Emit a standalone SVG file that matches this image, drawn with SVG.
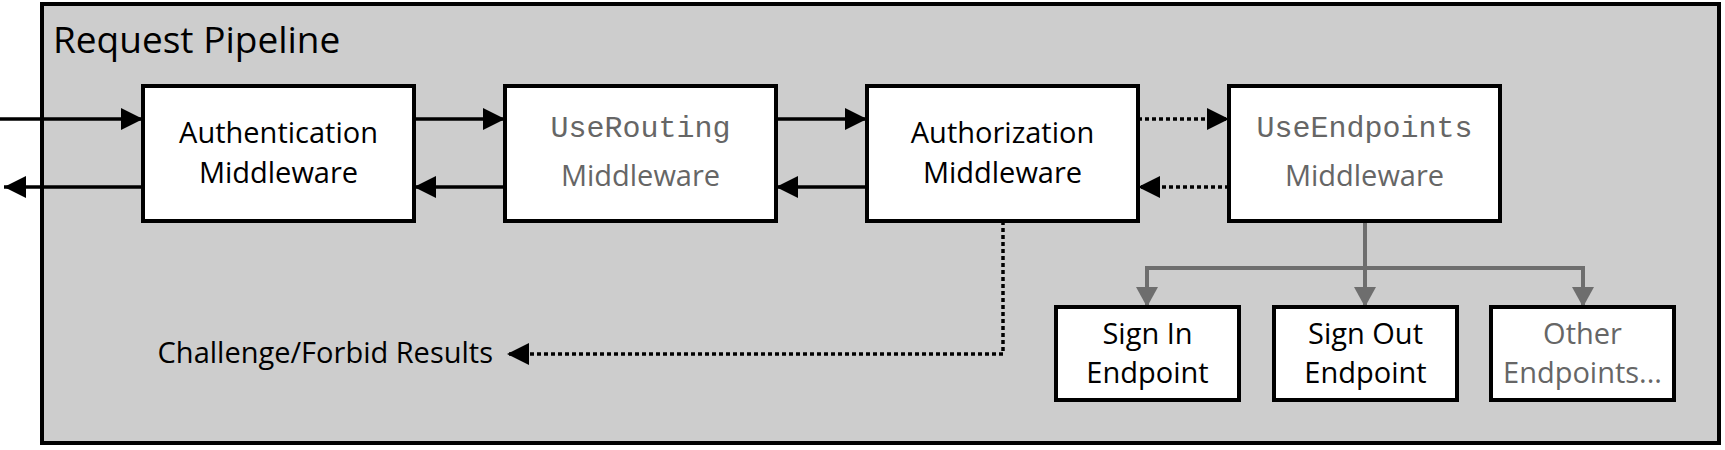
<svg xmlns="http://www.w3.org/2000/svg" width="1725" height="450" viewBox="0 0 1725 450">
<style>
.box{fill:#ffffff;stroke:#000000;stroke-width:4}
.lbl{font-family:"Open Sans","Liberation Sans",sans-serif;font-size:29px;fill:#000000;text-anchor:middle}
.gry{fill:#666666}
.mono{font-family:"Liberation Mono","DejaVu Sans Mono",monospace;font-size:30px;fill:#666666;text-anchor:middle}
.ln{fill:none;stroke:#000000;stroke-width:3.5}
.dot{fill:none;stroke:#000000;stroke-width:3.5;stroke-dasharray:4 3}
.gl{fill:none;stroke:#6e6e6e;stroke-width:4}
</style>
<defs>
<marker id="ah" viewBox="0 0 22 22" refX="22" refY="11" markerWidth="22" markerHeight="22" markerUnits="userSpaceOnUse" orient="auto">
<path d="M0,0 L22,11 L0,22 z" fill="#000000"/>
</marker>
<marker id="gh" viewBox="0 0 20 22" refX="20" refY="11" markerWidth="20" markerHeight="22" markerUnits="userSpaceOnUse" orient="auto">
<path d="M0,0 L20,11 L0,22 z" fill="#6e6e6e"/>
</marker>
</defs>
<g id="pipeline">
<rect x="42" y="4" width="1677" height="439" fill="#cdcdcd" stroke="#000000" stroke-width="4"/>
<text x="53" y="53" font-family="'Open Sans','Liberation Sans',sans-serif" font-size="37" fill="#000000">Request Pipeline</text>
</g>
<g id="connectors">
<line class="ln" x1="0" y1="119" x2="143" y2="119" marker-end="url(#ah)"/>
<line class="ln" x1="143" y1="187" x2="4" y2="187" marker-end="url(#ah)"/>
<line class="ln" x1="414" y1="119" x2="505" y2="119" marker-end="url(#ah)"/>
<line class="ln" x1="505" y1="187" x2="414" y2="187" marker-end="url(#ah)"/>
<line class="ln" x1="776" y1="119" x2="867" y2="119" marker-end="url(#ah)"/>
<line class="ln" x1="867" y1="187" x2="776" y2="187" marker-end="url(#ah)"/>
<line class="dot" x1="1138" y1="119" x2="1229" y2="119" marker-end="url(#ah)"/>
<line class="dot" x1="1229" y1="187" x2="1138" y2="187" marker-end="url(#ah)"/>
<polyline class="dot" points="1003,221 1003,354 507,354" marker-end="url(#ah)"/>
<line class="gl" x1="1365" y1="221" x2="1365" y2="307" marker-end="url(#gh)"/>
<polyline class="gl" points="1147,307 1147,268 1583,268 1583,307"/>
<line class="gl" x1="1147" y1="280" x2="1147" y2="307" marker-end="url(#gh)"/>
<line class="gl" x1="1583" y1="280" x2="1583" y2="307" marker-end="url(#gh)"/>
</g>
<g id="authentication">
<rect class="box" x="143" y="86" width="271" height="135"/>
<text class="lbl" x="278.5" y="143">Authentication</text>
<text class="lbl" x="278.5" y="183">Middleware</text>
</g>
<g id="userouting">
<rect class="box" x="505" y="86" width="271" height="135"/>
<text class="mono" x="640.5" y="137">UseRouting</text>
<text class="lbl gry" x="640.5" y="186">Middleware</text>
</g>
<g id="authorization">
<rect class="box" x="867" y="86" width="271" height="135"/>
<text class="lbl" x="1002.5" y="143">Authorization</text>
<text class="lbl" x="1002.5" y="183">Middleware</text>
</g>
<g id="useendpoints">
<rect class="box" x="1229" y="86" width="271" height="135"/>
<text class="mono" x="1364.5" y="137">UseEndpoints</text>
<text class="lbl gry" x="1364.5" y="186">Middleware</text>
</g>
<g id="signin">
<rect class="box" x="1056" y="307" width="183" height="93"/>
<text class="lbl" x="1147.5" y="344">Sign In</text>
<text class="lbl" x="1147.5" y="383">Endpoint</text>
</g>
<g id="signout">
<rect class="box" x="1274" y="307" width="183" height="93"/>
<text class="lbl" x="1365.5" y="344">Sign Out</text>
<text class="lbl" x="1365.5" y="383">Endpoint</text>
</g>
<g id="other">
<rect class="box" x="1491" y="307" width="183" height="93"/>
<text class="lbl gry" x="1582.5" y="344">Other</text>
<text class="lbl gry" x="1582.5" y="383">Endpoints...</text>
</g>
<g id="challenge">
<text x="493" y="363" font-family="'Open Sans','Liberation Sans',sans-serif" font-size="29" fill="#000000" text-anchor="end">Challenge/Forbid Results</text>
</g>
</svg>
